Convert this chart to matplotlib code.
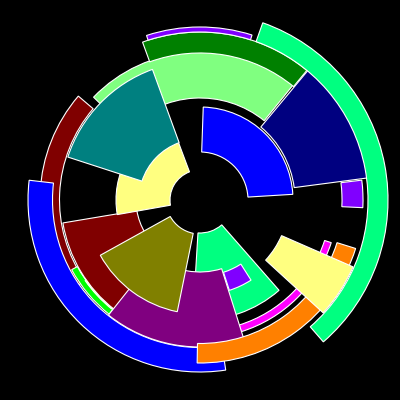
import numpy as np
import matplotlib
matplotlib.use("Agg")
import matplotlib.pyplot as plt

# wedges in drawing order: angles in degrees (counter-clockwise from east), radii in pixels
colors = ['#800000', '#0000FF', '#00FF00', '#FFFF80', '#800000', '#FFFF80', '#80FF80',
          '#008080', '#008000', '#8000FF', '#000080', '#0000FF', '#00FF80', '#8000FF',
          '#00FF80', '#8000FF', '#FF00FF', '#800080', '#808000', '#FF8000', '#FFFF80']
theta_start = [139.5, 173.4, 208.5, 215.0, 189.5, 110.5, 51.0,
               110.0, 50.5, 72.5, 7.5, 3.5, -49.0, -2.7,
               -93.5, -72.0, -72.6, 231.5, 209.0, 269.0, -42.5]
theta_end = [215.0, 278.6, 231.5, 231.0, 232.0, 190.0, 136.0,
             162.0, 110.0, 108.0, 50.2, 88.0, 70.5, 7.0,
             -48.8, -57.5, -18.0, 287.5, 258.5, 342.7, -23.6]
r_inner = [140.5, 147.5, 139.5, 138.8, 64.0, 30.0, 102.0,
           61.0, 147.0, 168.0, 95.0, 48.0, 168.0, 142.0,
           33.0, 76.0, 131.0, 72.0, 34.0, 143.5, 89.0]
r_outer = [160.0, 172.0, 146.0, 140.3, 139.0, 84.0, 148.0,
           139.0, 168.0, 173.0, 169.0, 93.0, 188.0, 163.0,
           120.0, 95.0, 138.0, 147.0, 114.0, 163.0, 167.0]

fig = plt.figure(figsize=(4, 4), dpi=100, facecolor='black')
ax = fig.add_axes([0, 0, 1, 1], projection='polar')
ax.set_facecolor('black')

for c, t0, t1, r0, r1 in zip(colors, theta_start, theta_end, r_inner, r_outer):
    ax.bar(np.deg2rad(t0), r1 - r0, width=np.deg2rad(t1 - t0), bottom=r0,
           align='edge', color=c, edgecolor='white', linewidth=0.8)

ax.set_ylim(0, 200)
ax.set_axis_off()

fig.savefig('out.png', facecolor='black')
